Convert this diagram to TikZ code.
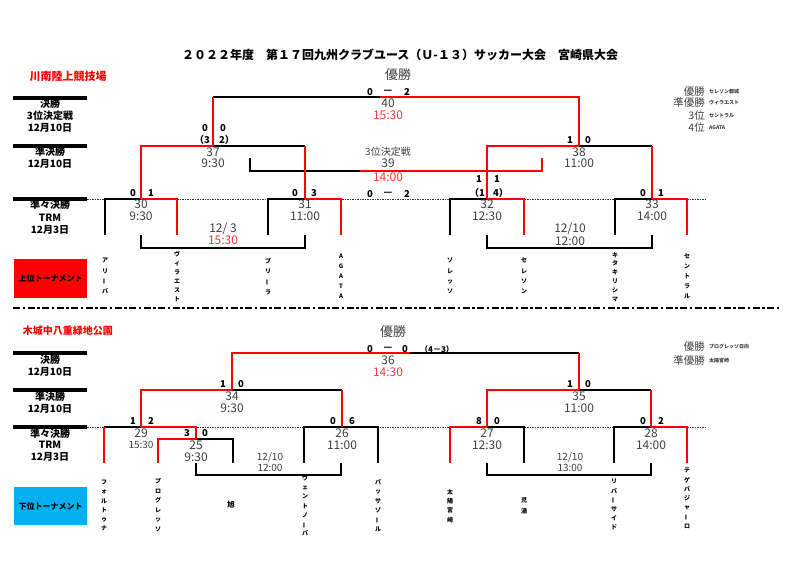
\documentclass[tikz,border=0pt]{standalone}
\usepackage{fontspec}
\setmainfont{Noto Sans CJK JP}
\definecolor{tg}{HTML}{404040}
\definecolor{tr}{HTML}{F03C3C}
\definecolor{rd}{HTML}{FF0000}
\definecolor{bl}{HTML}{00B0F0}
\newcommand\vbar{\rotatebox[origin=c]{90}{ー}}
\tikzset{
 bk/.style={draw=black,line width=1.9pt},
 rl/.style={draw=rd,line width=1.9pt},
 sc/.style={font=\bfseries\fontsize{9.5}{10}\selectfont,inner sep=0pt},
 nm/.style={font=\fontsize{12}{12}\selectfont,text=tg,inner sep=0pt},
 nmr/.style={nm,text=tr},
 sm/.style={font=\fontsize{10}{10}\selectfont,text=tg,inner sep=0pt},
 lab/.style={font=\bfseries\fontsize{10}{10}\selectfont,inner sep=0pt},
 team/.style={font=\bfseries\fontsize{6}{#1}\selectfont,align=center,inner sep=0pt,anchor=north},
 barline/.style={line width=3.5pt},
 dotline/.style={line width=0.8pt,dash pattern=on 1.5pt off 1pt,draw=black!80},
 big/.style={font=\fontsize{13}{13}\selectfont,text=tg,inner sep=0pt},
 legb/.style={font=\fontsize{10.5}{10.5}\selectfont,text=tg,inner sep=0pt,anchor=east},
 legs/.style={font=\bfseries\fontsize{5}{5}\selectfont,text=tg,inner sep=0pt,anchor=west},
}
\begin{document}
\begin{tikzpicture}[x=1pt,y=-1pt]
\useasboundingbox (0,0) rectangle (800,578);
% title
\node[font=\bfseries\fontsize{12}{12}\selectfont] (title) at (400,55) {２０２２年度　第１７回九州クラブユース（Ｕ-１３）サッカー大会　宮崎県大会};
% venues
\node[font=\bfseries\fontsize{11}{11}\selectfont,text=rd] (venue1) at (68,76) {川南陸上競技場};
\node[font=\bfseries\fontsize{10}{10}\selectfont,text=rd] (venue2) at (68,331) {木城中八重緑地公園};
% left bars
\foreach \y in {98,146,199,353,390,427} \draw[barline] (13,\y) -- (87,\y);
\draw[dotline] (87,199) -- (707,199);
\draw[dotline] (87,427) -- (707,427);
\draw[line width=2pt,dash pattern=on 7pt off 2.5pt on 2.5pt off 2.5pt] (13,308) -- (780,308);
% left labels upper
\node[lab] (l1) at (50,104) {決勝};
\node[lab] (l2) at (50,116) {3位決定戦};
\node[lab] (l3) at (50,128) {12月10日};
\node[lab] (l4) at (50,152) {準決勝};
\node[lab] (l5) at (50,164) {12月10日};
\node[lab] (l6) at (50,205) {準々決勝};
\node[lab] (l7) at (50,218) {TRM};
\node[lab] (l8) at (50,230) {12月3日};
% left labels lower
\node[lab] (k1) at (50,360) {決勝};
\node[lab] (k2) at (50,372) {12月10日};
\node[lab] (k4) at (50,397) {準決勝};
\node[lab] (k5) at (50,409) {12月10日};
\node[lab] (k6) at (50,434) {準々決勝};
\node[lab] (k7) at (50,445) {TRM};
\node[lab] (k8) at (50,457) {12月3日};
% boxes
\node[fill=rd,minimum width=73pt,minimum height=39pt,inner sep=0pt,font=\bfseries\fontsize{8}{8}\selectfont] (upbox) at (50.5,278.5) {上位トーナメント};
\node[fill=bl,minimum width=73pt,minimum height=38pt,inner sep=0pt,font=\bfseries\fontsize{8}{8}\selectfont] (lowbox) at (50.5,506) {下位トーナメント};

% ===== upper bracket: black lines =====
\draw[bk] (213,97) -- (380,97);
\draw[bk] (213,146) -- (305,146);
\draw[bk] (579,146) -- (652,146);
\draw[bk] (250,158) -- (250,171) -- (360,171);
\draw[bk] (105,235) -- (105,199) -- (141,199);
\draw[bk] (268,235) -- (268,199) -- (305,199);
\draw[bk] (450,235) -- (450,199) -- (487,199);
\draw[bk] (615,235) -- (615,199) -- (652,199);
\draw[bk] (141,235) -- (141,248) -- (305,248) -- (305,235);
\draw[bk] (487,235) -- (487,248) -- (652,248) -- (652,235);
% red lines
\draw[rl] (380,97) -- (579,97) -- (579,146);
\draw[rl] (213,97) -- (213,146);
\draw[rl] (141,199) -- (141,146) -- (213,146);
\draw[rl] (305,146) -- (305,199);
\draw[rl] (487,199) -- (487,146) -- (579,146);
\draw[rl] (652,146) -- (652,199);
\draw[rl] (360,171) -- (542,171) -- (542,158);
\draw[rl] (141,199) -- (177,199) -- (177,235);
\draw[rl] (305,199) -- (341,199) -- (341,235);
\draw[rl] (487,199) -- (524,199) -- (524,235);
\draw[rl] (652,199) -- (687,199) -- (687,235);

% upper texts
\node[big] (win1) at (398,75) {優勝};
\node[sc] (f1a) at (370,92) {0};
\node[sc] (f1b) at (388,92) {—};
\node[sc] (f1c) at (407,92) {2};
\node[nm] (m40) at (388,103) {40};
\node[nmr] (t40) at (388,115) {15:30};
\node[sc] (s37a) at (205,128) {0};
\node[sc] (s37b) at (223,128) {0};
\node[sc,anchor=east] (p37a) at (210,140) {（3};
\node[sc,anchor=west] (p37b) at (219,140) {2）};
\node[nm] (m37) at (213,152) {37};
\node[nm] (t37) at (213,163) {9:30};
\node[sc] (s38a) at (570,140) {1};
\node[sc] (s38b) at (588,140) {0};
\node[nm] (m38) at (579,152) {38};
\node[nm] (t38) at (579,163) {11:00};
\node[sm] (d39) at (388,152) {3位決定戦};
\node[nm] (m39) at (388,163) {39};
\node[nmr] (t39) at (388,177) {14:00};
\node[sc] (s39a) at (370,194) {0};
\node[sc] (s39b) at (388,194) {—};
\node[sc] (s39c) at (407,194) {2};
\node[sc] (s30a) at (133,193) {0};
\node[sc] (s30b) at (151,193) {1};
\node[nm] (m30) at (141,204) {30};
\node[nm] (t30) at (141,216) {9:30};
\node[sc] (s31a) at (295,193) {0};
\node[sc] (s31b) at (314,193) {3};
\node[nm] (m31) at (305,204) {31};
\node[nm] (t31) at (305,216) {11:00};
\node[sc] (s32a) at (479,179) {1};
\node[sc] (s32b) at (497,179) {1};
\node[sc,anchor=east] (p32a) at (485,193) {（1};
\node[sc,anchor=west] (p32b) at (493,193) {4）};
\node[nm] (m32) at (487,204) {32};
\node[nm] (t32) at (487,216) {12:30};
\node[sc] (s33a) at (643,193) {0};
\node[sc] (s33b) at (661,193) {1};
\node[nm] (m33) at (652,204) {33};
\node[nm] (t33) at (652,216) {14:00};
\node[nm] (d1) at (223,229) {12/ 3};
\node[nmr] (d1t) at (223,240) {15:30};
\node[nm] (d2) at (570,229) {12/10};
\node[nm] (d2t) at (570,241) {12:00};
% upper legend
\node[legb] (g1) at (705,92) {優勝};
\node[legs] (g1n) at (709,92) {セレソン都城};
\node[legb] (g2) at (705,103) {準優勝};
\node[legs] (g2n) at (709,103) {ヴィラエスト};
\node[legb] (g3) at (705,116) {3位};
\node[legs] (g3n) at (709,116) {セントラル};
\node[legb] (g4) at (705,128) {4位};
\node[legs] (g4n) at (709,128) {AGATA};
% upper teams
\node[team=10.3] (u1) at (105,258) {ア\\リ\\\vbar\\バ};
\node[team=9] (u2) at (177,251) {ヴ\\ィ\\ラ\\エ\\ス\\ト};
\node[team=10.3] (u3) at (268,258) {ブ\\リ\\\vbar\\ラ};
\node[team=10] (u4) at (341,254) {A\\G\\A\\T\\A};
\node[team=10.3] (u5) at (450,258) {ソ\\レ\\ッ\\ソ};
\node[team=10.3] (u6) at (524,258) {セ\\レ\\ソ\\ン};
\node[team=8.8] (u7) at (615,252) {キ\\タ\\キ\\リ\\シ\\マ};
\node[team=10] (u8) at (687,254) {セ\\ン\\ト\\ラ\\ル};

% ===== lower bracket: black lines =====
\draw[bk] (410,353) -- (579,353);
\draw[bk] (232,390) -- (342,390);
\draw[bk] (579,390) -- (651,390);
\draw[bk] (104,427) -- (141,427);
\draw[bk] (196,439) -- (233,439) -- (233,463);
\draw[bk] (304,463) -- (304,427) -- (378,427) -- (378,463);
\draw[bk] (487,427) -- (524,427) -- (524,463);
\draw[bk] (614,463) -- (614,427) -- (651,427);
\draw[bk] (196,463) -- (196,475) -- (341,475) -- (341,463);
\draw[bk] (487,463) -- (487,475) -- (651,475) -- (651,463);
% red lines
\draw[rl] (232,390) -- (232,353) -- (410,353);
\draw[rl] (579,353) -- (579,390);
\draw[rl] (141,427) -- (141,390) -- (232,390);
\draw[rl] (342,390) -- (342,427);
\draw[rl] (487,427) -- (487,390) -- (579,390);
\draw[rl] (651,390) -- (651,427);
\draw[rl] (104,463) -- (104,427);
\draw[rl] (141,427) -- (196,427) -- (196,439);
\draw[rl] (158,463) -- (158,439) -- (196,439);
\draw[rl] (450,463) -- (450,427) -- (487,427);
\draw[rl] (651,427) -- (687,427) -- (687,463);

% lower texts
\node[big] (win2) at (393,332) {優勝};
\node[sc] (f2a) at (370,349) {0};
\node[sc] (f2b) at (388,349) {—};
\node[sc] (f2c) at (405,349) {0};
\node[sc,anchor=west,font=\bfseries\fontsize{8}{8}\selectfont] (pk36) at (420,349) {（4－3）};
\node[nm] (m36) at (388,360) {36};
\node[nmr] (t36) at (388,372) {14:30};
\node[sc] (s34a) at (223,384) {1};
\node[sc] (s34b) at (241,384) {0};
\node[nm] (m34) at (232,396) {34};
\node[nm] (t34) at (232,408) {9:30};
\node[sc] (s35a) at (570,384) {1};
\node[sc] (s35b) at (588,384) {0};
\node[nm] (m35) at (579,396) {35};
\node[nm] (t35) at (579,408) {11:00};
\node[sc] (s29a) at (133,421) {1};
\node[sc] (s29b) at (151,421) {2};
\node[nm] (m29) at (141,433) {29};
\node[sm] (t29) at (141,445) {15:30};
\node[sc] (s25a) at (187,433) {3};
\node[sc] (s25b) at (205,433) {0};
\node[nm] (m25) at (196,445) {25};
\node[nm] (t25) at (196,457) {9:30};
\node[sc] (s26a) at (333,421) {0};
\node[sc] (s26b) at (352,421) {6};
\node[nm] (m26) at (342,433) {26};
\node[nm] (t26) at (342,445) {11:00};
\node[sc] (s27a) at (479,421) {8};
\node[sc] (s27b) at (497,421) {0};
\node[nm] (m27) at (487,433) {27};
\node[nm] (t27) at (487,445) {12:30};
\node[sc] (s28a) at (643,421) {0};
\node[sc] (s28b) at (661,421) {2};
\node[nm] (m28) at (651,433) {28};
\node[nm] (t28) at (651,445) {14:00};
\node[sm] (d3) at (270,457) {12/10};
\node[sm] (d3t) at (270,468) {12:00};
\node[sm] (d4) at (570,457) {12/10};
\node[sm] (d4t) at (570,468) {13:00};
% lower legend
\node[legb] (h1) at (705,347) {優勝};
\node[legs] (h1n) at (709,347) {プログレッソ日向};
\node[legb] (h2) at (705,361) {準優勝};
\node[legs] (h2n) at (709,361) {太陽宮崎};
% lower teams
\node[team=9.2] (v1) at (104,480) {フ\\ォ\\ル\\ト\\ゥ\\ナ};
\node[team=9.6] (v2) at (158,478) {プ\\ロ\\グ\\レ\\ッ\\ソ};
\node[font=\bfseries\fontsize{7.5}{7.5}\selectfont,inner sep=0pt] (v3) at (231,505) {旭};
\node[team=9.2] (v4) at (305,475) {ヴ\\ェ\\ン\\ト\\ノ\\\vbar\\バ};
\node[team=9.4] (v5) at (378,479) {パ\\ッ\\サ\\ゾ\\\vbar\\ル};
\node[team=9.3] (v6) at (450,489) {太\\陽\\宮\\崎};
\node[team=11] (v7) at (524,497) {児\\湯};
\node[team=9.2] (v8) at (614,479) {リ\\バ\\\vbar\\サ\\イ\\ド};
\node[team=9.2] (v9) at (687,468) {テ\\ゲ\\バ\\ジ\\ャ\\\vbar\\ロ};
\end{tikzpicture}
\end{document}
